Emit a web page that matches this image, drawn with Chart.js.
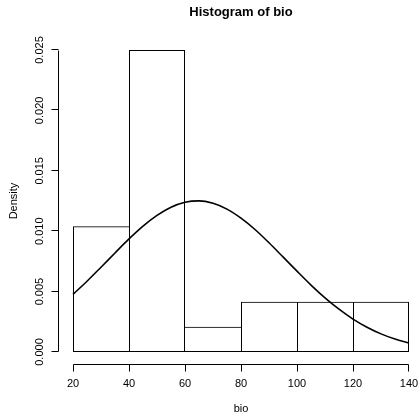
<!DOCTYPE html>
<html>
<head>
<meta charset="utf-8">
<title>Histogram of bio</title>
<script src="https://cdn.jsdelivr.net/npm/chart.js@4.4.1/dist/chart.umd.min.js"></script>
<style>
  html, body { margin: 0; padding: 0; background: #fff; }
  canvas { display: block; }
</style>
</head>
<body>
<canvas id="chart" width="418" height="414"></canvas>
<script>
// histogram bins and densities
const binEdges = [20, 40, 60, 80, 100, 120, 140];
const densities = [0.0104, 0.025, 0.00208, 0.00417, 0.00417, 0.00417];

// density curve
const curveX = [20, 25, 30, 35, 40, 45, 50, 55, 60, 65, 70, 75, 80,
                85, 90, 95, 100, 105, 110, 115, 120, 125, 130, 135, 140];
const curveY = [0.00477, 0.00586, 0.00702, 0.0082, 0.00936, 0.01042, 0.01131, 0.01199, 0.0124,
                0.01251, 0.01231, 0.01183, 0.01108, 0.01014, 0.00904, 0.00787, 0.00669,
                0.00554, 0.00448, 0.00354, 0.00272, 0.00205, 0.0015, 0.00107, 0.00075];

const xTicks = [20, 40, 60, 80, 100, 120, 140];
const yTicks = [0, 0.005, 0.01, 0.015, 0.02, 0.025];
const yTickLabels = ["0.000", "0.005", "0.010", "0.015", "0.020", "0.025"];

const FONT = "'Liberation Sans', Arial, Helvetica, sans-serif";

// 2.8 px per unit so the bin edges land on whole pixels
const xMin = 20 - 15 / 2.8;
const xMax = xMin + 354 / 2.8;

// R style axes, labels and title
const rAxes = {
    id: "rAxes",
    afterDraw(chart) {
        const ctx = chart.ctx;
        const xs = chart.scales.x;
        const ys = chart.scales.y;
        const area = chart.chartArea;
        ctx.save();
        ctx.strokeStyle = "#000";
        ctx.fillStyle = "#000";
        ctx.lineWidth = 1;

        // x axis
        const xb = Math.round(area.bottom) + 0.5;
        ctx.beginPath();
        ctx.moveTo(xs.getPixelForValue(xTicks[0]) + 0.5, xb);
        ctx.lineTo(xs.getPixelForValue(xTicks[xTicks.length - 1]) - 0.5, xb);
        xTicks.forEach((v, i) => {
            const p = xs.getPixelForValue(v) + (i === xTicks.length - 1 ? -0.5 : 0.5);
            ctx.moveTo(p, xb);
            ctx.lineTo(p, xb + 7);
        });
        // y axis
        const yl = Math.round(area.left) + 0.5;
        ctx.moveTo(yl, ys.getPixelForValue(yTicks[0]) - 0.5);
        ctx.lineTo(yl, ys.getPixelForValue(yTicks[yTicks.length - 1]) + 0.5);
        yTicks.forEach(v => {
            const p = Math.round(ys.getPixelForValue(v)) - 0.5;
            ctx.moveTo(yl, p);
            ctx.lineTo(yl - 7, p);
        });
        ctx.stroke();

        ctx.font = "11px " + FONT;
        ctx.textAlign = "center";
        ctx.textBaseline = "middle";
        xTicks.forEach(v => ctx.fillText(String(v), xs.getPixelForValue(v), xb + 19));
        yTicks.forEach((v, i) => {
            ctx.save();
            ctx.translate(yl - 18.5, ys.getPixelForValue(v));
            ctx.rotate(-Math.PI / 2);
            ctx.fillText(yTickLabels[i], 0, 0);
            ctx.restore();
        });

        const cx = xs.getPixelForValue(80);
        ctx.fillText("bio", cx, 409);
        ctx.save();
        ctx.translate(14, (area.top + area.bottom) / 2);
        ctx.rotate(-Math.PI / 2);
        ctx.fillText("Density", 0, 0);
        ctx.restore();

        ctx.font = "bold 13px " + FONT;
        ctx.fillText("Histogram of bio", cx, 12);
        ctx.restore();
    }
};

// shared edges are drawn once, by the taller bar
function edgeWidths(c) {
    if (c.type !== "data") return 1;
    const i = c.dataIndex;
    const d = densities;
    return {
        top: 1,
        bottom: 1,
        left: (i === 0 || d[i] >= d[i - 1]) ? 1 : 0,
        right: (i === d.length - 1 || d[i] > d[i + 1]) ? 1 : 0
    };
}

new Chart(document.getElementById("chart").getContext("2d"), {
    type: "bar",
    data: {
        datasets: [{
            type: "line",
            data: curveX.map((x, i) => ({ x: x, y: curveY[i] })),
            borderColor: "#000",
            borderWidth: 1.6,
            pointRadius: 0,
            fill: false,
            cubicInterpolationMode: "monotone",
            order: 1
        }, {
            type: "bar",
            data: densities.map((d, i) => ({ x: (binEdges[i] + binEdges[i + 1]) / 2, y: d })),
            backgroundColor: "rgba(255,255,255,0)",
            borderColor: "#000",
            borderWidth: edgeWidths,
            borderSkipped: false,
            barPercentage: 1,
            categoryPercentage: 1,
            inflateAmount: 0,
            order: 2
        }]
    },
    options: {
        responsive: false,
        animation: false,
        devicePixelRatio: 1,
        layout: { padding: { left: 58, right: 6, top: 37.92, bottom: 49.92 } },
        plugins: {
            legend: { display: false },
            tooltip: { enabled: false },
            title: { display: false }
        },
        scales: {
            x: {
                type: "linear",
                min: xMin,
                max: xMax,
                offset: false,
                display: false,
                afterBuildTicks: s => { s.ticks = xTicks.map(v => ({ value: v })); }
            },
            y: {
                type: "linear",
                min: -0.001,
                max: 0.026,
                display: false,
                afterBuildTicks: s => { s.ticks = yTicks.map(v => ({ value: v })); }
            }
        }
    },
    plugins: [rAxes]
});
</script>
</body>
</html>
